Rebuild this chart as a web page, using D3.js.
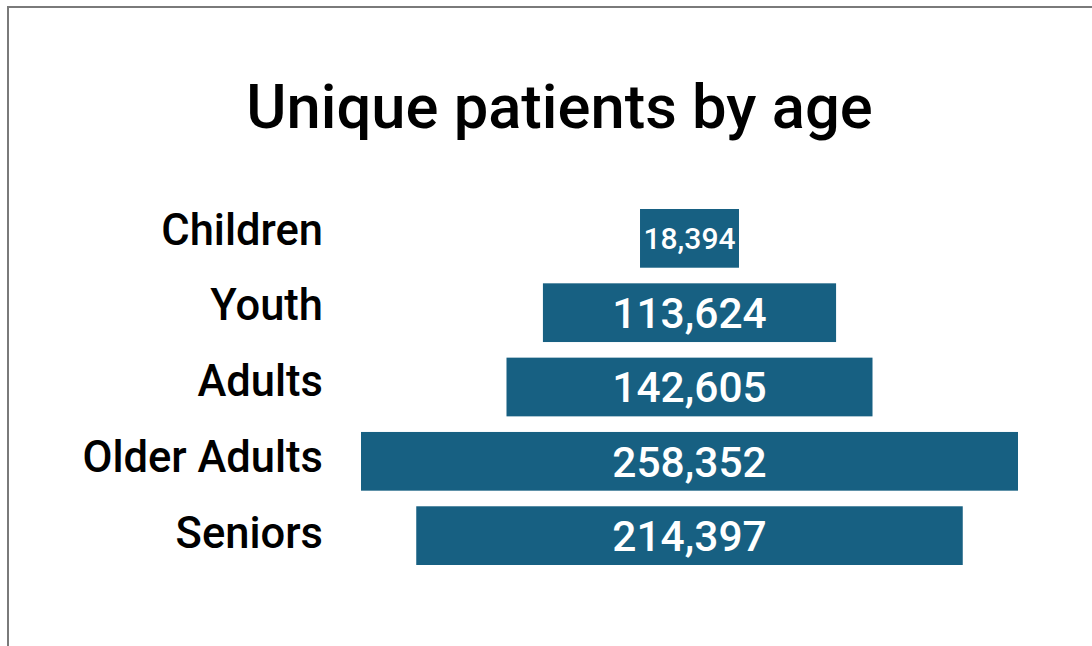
<!DOCTYPE html>
<html>
<head>
<meta charset="utf-8">
<script src="https://cdn.jsdelivr.net/npm/d3@7"></script>
<style>
  html, body { margin: 0; padding: 0; background: #fff; }
  svg { display: block; }
</style>
</head>
<body>
<svg id="chart" width="1092" height="646"></svg>
<script>
// ---- data ----
const categories = ["Children", "Youth", "Adults", "Older Adults", "Seniors"];
const values = [18394, 113624, 142605, 258352, 214397];
const title = "Unique patients by age";

// ---- layout ----
const W = 1092, H = 646;
const svg = d3.select("#chart");
const barColor = "#176082";
const centerX = 689.5;
const labelRight = 323;
const FONT = "Roboto, 'Liberation Sans', Arial, sans-serif";

// frame (gray border at top and left)
svg.append("line").attr("x1", 7).attr("x2", W).attr("y1", 7).attr("y2", 7)
  .attr("stroke", "#7a7a7a").attr("stroke-width", 2);
svg.append("line").attr("x1", 8).attr("x2", 8).attr("y1", 6).attr("y2", H)
  .attr("stroke", "#7a7a7a").attr("stroke-width", 2);

// title
svg.append("text")
  .attr("x", 559.5).attr("y", 128)
  .attr("text-anchor", "middle")
  .attr("font-family", FONT)
  .attr("font-weight", 500)
  .attr("font-size", 61.5)
  .attr("fill", "#000")
  .text(title);

// scales
const x = d3.scaleLinear().domain([0, d3.max(values)]).range([7.5, 657]);
const yBar = d3.scaleBand().domain(categories).range([209, 565]).paddingInner(0.21).paddingOuter(0);
const yLabel = d3.scalePoint().domain(categories).range([229, 532]);

const data = categories.map((c, i) => ({ cat: c, val: values[i] }));
const fmt = d3.format(",");

// category labels
svg.append("g").selectAll("text").data(data).join("text")
  .attr("x", labelRight)
  .attr("y", d => yLabel(d.cat))
  .attr("dy", "0.36em")
  .attr("text-anchor", "end")
  .attr("font-family", FONT)
  .attr("font-weight", 500)
  .attr("font-size", 43.5)
  .attr("fill", "#000")
  .text(d => d.cat);

// bars and value labels
const g = svg.append("g");
const rows = g.selectAll("g.row").data(data).join("g").attr("class", "row");

const rects = rows.append("rect")
  .attr("y", d => yBar(d.cat))
  .attr("height", yBar.bandwidth())
  .attr("fill", barColor);

const labels = rows.append("text")
  .attr("x", centerX)
  .attr("y", d => yBar(d.cat) + yBar.bandwidth() / 2)
  .attr("dy", "0.36em")
  .attr("text-anchor", "middle")
  .attr("font-family", FONT)
  .attr("font-weight", 500)
  .attr("fill", "#fff")
  .attr("font-size", d => x(d.val) < 120 ? 30 : 42.5)
  .text(d => fmt(d.val));

labels.each(function(d) {
  const tw = this.getComputedTextLength();
  d.w = Math.max(x(d.val), tw + 7);
});

rects
  .attr("x", d => centerX - d.w / 2)
  .attr("width", d => d.w);
</script>
</body>
</html>
